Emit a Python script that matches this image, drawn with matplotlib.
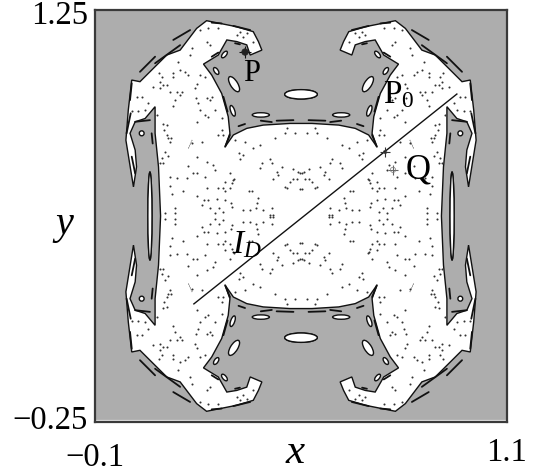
import matplotlib
matplotlib.use("Agg")
import matplotlib.pyplot as plt
from matplotlib.patches import Polygon, Ellipse
from matplotlib.transforms import ScaledTranslation
import numpy as np

plt.rcParams['font.family'] = ['Liberation Serif', 'DejaVu Serif']
plt.rcParams['mathtext.fontset'] = 'custom'
plt.rcParams['mathtext.rm'] = 'Liberation Serif'
plt.rcParams['mathtext.it'] = 'Liberation Serif:italic'

# Top-left quadrant boundary of the white (chaotic) region; the map is mirror symmetric
edge_x = [.500,.468,.390,.342,.303,.279,.293,.288,.269,.240,.216,.259,.284,.313,.342,.352,.386,.376,.361,.313,
          .225,.196,.148,.109,.031,.007,-.003,-.010,.012,.021,.017,.002,.017,.046,.075,.075,.085,.091]
edge_y = [.837,.837,.831,.819,.795,.752,.801,.862,.946,1.013,1.053,1.086,1.141,1.135,1.123,1.086,1.104,1.135,1.171,1.189,
          1.211,1.183,1.104,1.086,.989,.995,.886,.776,.606,.679,.740,.801,.843,.855,.898,.801,.679,.500]

# Islands: x, y, width, height, angle
isl_x = [.500,.383,.305,.301,.277,.253,.036,.060]
isl_y = [.943,.868,.980,.883,1.088,1.028,.801,.500]
isl_w = [.095,.050,.022,.012,.012,.012,.014,.012]
isl_h = [.034,.016,.060,.040,.027,.027,.018,.320]
isl_a = [0,0,25,15,-30,25,0,0]

# Short dark segments along the boundaries
dash_x0 = [.128,.075,.031,.240,.303,.308,.429,.318,.274,.240,.065,.007,-.008,.017,.007,.383,.279]
dash_y0 = [1.141,1.056,1.025,1.204,1.192,1.129,.847,.827,.934,1.080,.801,.716,.801,.843,.983,.847,.752]
dash_x1 = [.177,.148,.075,.269,.352,.322,.478,.337,.286,.259,.068,.017,.004,.060,.002,.415,.293]
dash_y1 = [1.177,1.122,1.080,1.201,1.177,1.125,.849,.835,.880,1.095,.764,.655,.874,.849,.922,.842,.795]

# Thin streak of orbit points
streak_x = [.172,.183]
streak_y = [.746,.777]

# Orbit points scattered in the white region (top-left quadrant)
pt_x = [.109,.101,.114,.121,.118,.109,.211,.182,.104,.114,.094,.099,.089,.259,.269,.274,.308,.337,.318,.332,
        .322,.361,.381,.424,.453,.458,.483,.386,.410,.415,.381,.444,.429,.434,.478,.492,.497,.225,.245,.172,
        .196,.250,.293,.220,.186,.196,.118,.138,.167,.301,.305,.298,.279,.274,.259,.293,.279,.225,.157,.118,
        .123,.196,.218,.230,.254,.211,.235,.262,.279,.295,.298,.274,.250,.133,.133,.104,.350,.356,.374,.371,
        .351,.332,.369,.388,.415,.418,.410,.453,.458,.468,.478,.487,.497,.419,
        .230,.206,.259,.225,.235,.182,.177,.143,.148,.162,.172,.128,.128,.094,.085,.089,.099,.109,.070,.089,
        .119,.138,.153,.148,.133,.128,.206,.220,.196,.191,.194,.225,.240,.235,.201,.206,.220,.230,.196,.250,
        .269,.021,.036,.055,.007,.026,.046,.080,.099,.313,.332,.322,.361,.342]
pt_y = [.831,.813,.783,.783,.771,.795,.771,.765,.734,.719,.710,.692,.694,.795,.813,.795,.777,.771,.728,.722,
        .706,.746,.759,.783,.801,.819,.801,.694,.706,.692,.676,.680,.662,.649,.670,.662,.656,.698,.686,.682,
        .714,.668,.658,.643,.656,.656,.641,.637,.637,.631,.634,.619,.623,.603,.603,.603,.591,.601,.592,.609,
        .580,.571,.558,.558,.561,.540,.528,.528,.558,.549,.531,.516,.510,.528,.510,.510,.592,.592,.567,.546,
        .522,.522,.528,.522,.528,.504,.504,.607,.601,.623,.634,.634,.597,.634,
        1.183,1.177,1.183,1.135,1.123,1.110,1.086,1.062,1.032,1.026,1.014,1.020,1.007,1.007,1.020,.989,.977,.977,.971,.965,
        .953,.953,.953,.941,.922,.901,1.014,1.007,.981,.965,.928,.928,.934,.922,.910,.886,.868,.862,.844,.886,
        .856,.935,.935,.913,.884,.884,.886,.868,.835,1.159,1.153,1.171,1.135,1.165]

# Line I_D and the labelled points
line_x = [.188,.954]
line_y = [.180,.944]
mark_x = [.337,.745,.768]
mark_y = [1.097,.733,.668]

xticks = [-0.1, 1.1]
yticks = [-0.25, 1.25]

fig = plt.figure(figsize=(5.4, 4.72), dpi=100)
ax = fig.add_axes([95/540, 50/472, 412/540, 412/472])
ax.set_xlim(-0.1, 1.1)
ax.set_ylim(-0.25, 1.25)
ax.set_facecolor('#adadad')
for s in ax.spines.values():
    s.set_linewidth(1.6)
    s.set_color('#3a3a3a')
ax.axhline(-0.243, color='#e4e4e4', lw=0.9, zorder=1)

ex, ey = np.array(edge_x), np.array(edge_y)
full_x = np.concatenate([ex, ex[::-1], 1 - ex, (1 - ex)[::-1]])
full_y = np.concatenate([ey, 1 - ey[::-1], 1 - ey, ey[::-1]])
ax.add_patch(Polygon(np.column_stack([full_x, full_y]), closed=True, fc='white', ec='#111111', lw=1.0, zorder=2))

for fx in (False, True):
    for fy in (False, True):
        mx = (lambda v: 1 - np.asarray(v)) if fx else (lambda v: np.asarray(v))
        my = (lambda v: 1 - np.asarray(v)) if fy else (lambda v: np.asarray(v))
        sgn = (-1 if fx else 1) * (-1 if fy else 1)
        for x, y, w, h, a in zip(mx(isl_x), my(isl_y), isl_w, isl_h, isl_a):
            ax.add_patch(Ellipse((x, y), w, h, angle=sgn * a, fc='white', ec='#111111', lw=1.0, zorder=3))
        for a0, b0, a1, b1 in zip(mx(dash_x0), my(dash_y0), mx(dash_x1), my(dash_y1)):
            ax.plot([a0, a1], [b0, b1], color='#111111', lw=1.3, zorder=3, solid_capstyle='round')
        ax.plot(mx(streak_x), my(streak_y), color='#555555', lw=0.6, ls=(0, (1.5, 1)), zorder=3)
        ax.scatter(mx(pt_x), my(pt_y), s=2.2, c='#333333', linewidths=0, zorder=4)

ax.plot(line_x, line_y, color='#111111', lw=1.0, zorder=5)
ax.scatter(mark_x, mark_y, marker='+', s=[70, 50, 50], c=['#111111', '#333333', '#666666'], linewidths=0.8, zorder=6)
ax.scatter(mark_x, mark_y, marker='o', s=[22, 6, 14], facecolors=['#222222', 'none', 'none'],
           edgecolors=['#222222', '#333333', '#777777'], linewidths=0.5, zorder=6)

ax.set_xticks(xticks)
ax.set_xticklabels([f'{v:g}'.replace('-', '\u2212') for v in xticks], fontsize=23.5)
ax.set_yticks(yticks)
ax.set_yticklabels([f'{v:g}'.replace('-', '\u2212') for v in yticks], fontsize=23.5)
ax.tick_params(length=0, pad=5)
ax.tick_params(axis='x', pad=11)
px = fig.dpi_scale_trans
xl = ax.get_xticklabels()
yl = ax.get_yticklabels()
for lab in yl:
    lab.set_va('center')
yl[0].set_transform(yl[0].get_transform() + ScaledTranslation(0, 1 / 100, px))
yl[1].set_transform(yl[1].get_transform() + ScaledTranslation(0, -6 / 100, px))
xl[0].set_transform(xl[0].get_transform() + ScaledTranslation(0, -5 / 100, px))

ax.text(0.488, -0.074, '$x$', transform=ax.transAxes, fontsize=31, ha='center', va='center')
ax.text(-0.077, 0.475, '$y$', transform=ax.transAxes, fontsize=29, ha='center', va='center')
ax.text(.355, 1.02, 'P', fontsize=22, ha='center', va='center', zorder=7)
ax.text(.785, .94, 'P$_0$', fontsize=24, ha='center', va='center', zorder=7)
ax.text(.84, .668, 'Q', fontsize=25, ha='center', va='center', zorder=7)
ax.text(.342, .395, '$I_D$', fontsize=24, ha='center', va='center', zorder=7)

fig.savefig('out.png', dpi=100)
